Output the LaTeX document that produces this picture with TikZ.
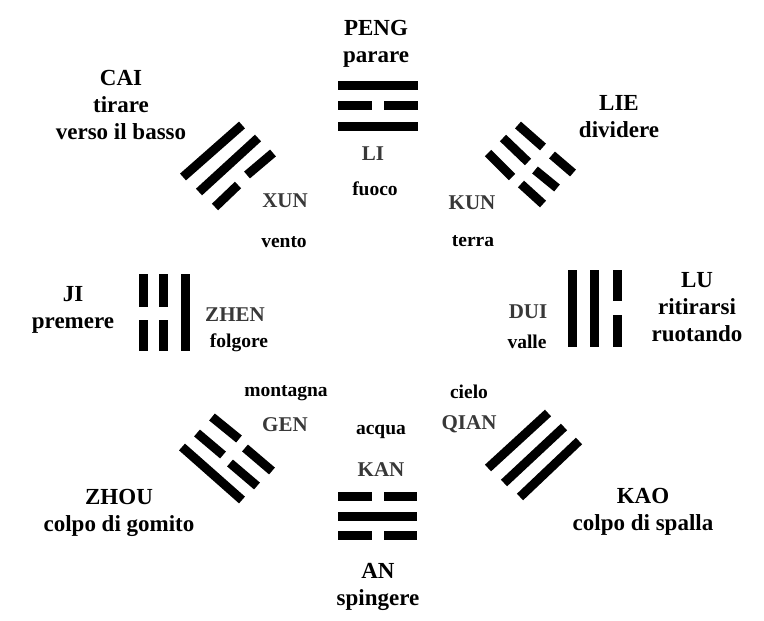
\documentclass[tikz,border=0pt]{standalone}
\usepackage{fontspec}
\setmainfont{Liberation Serif}
\definecolor{bluastro}{gray}{0.22}
\tikzset{
  yao/.style={black,line width=9pt},
  mossa/.style={font=\fontsize{23}{27}\selectfont\bfseries,align=center,black},
  gua/.style={font=\fontsize{21}{24}\selectfont\bfseries,bluastro},
  natura/.style={font=\fontsize{19.5}{22}\selectfont\bfseries,black}
}
\begin{document}
\begin{tikzpicture}[x=1pt,y=-1pt]
\useasboundingbox (0,0) rectangle (764,621);

% straight and broken lines of the eight signs
\foreach \xa/\ya/\xb/\yb in {338/85/418/85, 338/105/372/105, 384/105/418/105, 338/126/418/126,
  183/177/242/125, 199/192/258/138, 215/207/238/185, 247/175/273/153,
  518/125/543/147, 552/155/573/173, 503/138/528/162, 535/170/557/188, 488/153/512/177, 521/184/543/204,
  143/274/143/307, 143/320/143/351, 163/274/163/307, 163/320/163/351, 185/274/185/351,
  572/270/572/347, 594/270/594/347, 617/270/617/301, 617/315/617/347,
  212/417/239/439, 245/448/272/471, 197/433/223/455, 230/463/257/486, 182/447/242/500,
  488/468/548/413, 504/483/564/427, 520/497/579/441,
  338/496/372/496, 384/496/417/496, 338/516/417/516, 338/535/372/535, 384/535/417/535}
	\draw[yao] (\xa,\ya) -- (\xb,\yb);

% names around the outside
\node[mossa] (peng) at (376,44) {PENG\\parare};
\node[mossa] (cai) at (121,105) {CAI\\tirare\\verso il basso};
\node[mossa] (lie) at (619,117) {LIE\\dividere};
\node[mossa] (ji) at (73,310) {JI\\premere};
\node[mossa] (lu) at (697,307) {LU\\ritirarsi\\ruotando};
\node[mossa] (zhou) at (119,513) {ZHOU\\colpo di gomito};
\node[mossa] (kao) at (643,512) {KAO\\colpo di spalla};
\node[mossa] (an) at (378,587) {AN\\spingere};

% names of the signs
\node[gua] (li) at (373,154) {LI};
\node[gua] (xun) at (285,201) {XUN};
\node[gua] (kun) at (472,203) {KUN};
\node[gua] (zhen) at (235,315) {ZHEN};
\node[gua] (dui) at (528,312) {DUI};
\node[gua] (gen) at (285,425) {GEN};
\node[gua] (qian) at (469,424) {QIAN};
\node[gua] (kan) at (381,470) {KAN};

% what each sign stands for
\node[natura] (fuoco) at (375,189) {fuoco};
\node[natura] (vento) at (284,242) {vento};
\node[natura] (terra) at (473,241) {terra};
\node[natura] (folgore) at (239,343) {folgore};
\node[natura] (valle) at (527,342) {valle};
\node[natura] (montagna) at (286,393) {montagna};
\node[natura] (cielo) at (469,392) {cielo};
\node[natura] (acqua) at (381,432) {acqua};
\end{tikzpicture}
\end{document}
